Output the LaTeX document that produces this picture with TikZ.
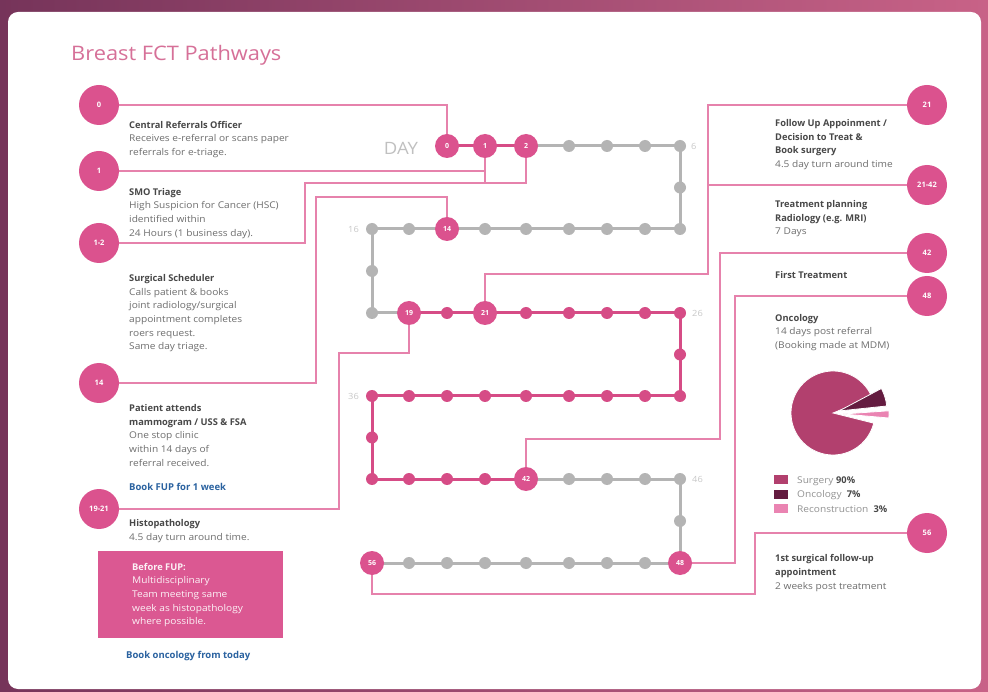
\documentclass[tikz,border=0pt]{standalone}
\usepackage{fontspec}
\setmainfont{Open Sans}[UprightFeatures={FakeStretch=1.09}]
\usetikzlibrary{calc}

\definecolor{bgl}{RGB}{118,52,90}
\definecolor{bgr}{RGB}{200,98,135}
\definecolor{pinkmain}{RGB}{219,82,142}
\definecolor{pathpink}{RGB}{214,76,134}
\definecolor{pathgray}{RGB}{180,180,180}
\definecolor{connc}{RGB}{230,130,172}
\definecolor{bodyc}{RGB}{110,110,110}
\definecolor{headc}{RGB}{72,72,72}
\definecolor{bluec}{RGB}{42,98,160}
\definecolor{boxc}{RGB}{219,88,146}
\definecolor{titlec}{RGB}{214,112,152}
\definecolor{daygray}{RGB}{192,192,192}
\definecolor{numgray}{RGB}{200,200,200}
\definecolor{surgc}{RGB}{178,64,110}
\definecolor{oncc}{RGB}{100,28,64}
\definecolor{recc}{RGB}{234,132,178}

\pgfdeclarelayer{back}
\pgfdeclarelayer{links}
\pgfsetlayers{back,links,main}

\newcommand\headtxt[1]{{\bfseries\color{headc}#1}}
\newcommand\dayat[3]{%
  \pgfmathsetmacro\dayx{{372,409,447,485,526,569,607,645,680}[#2]}%
  \coordinate (p#1) at (\dayx,#3);}

\begin{document}
\begin{tikzpicture}[x=1pt,y=-1pt,
  graydot/.style={circle,fill=pathgray,minimum size=12pt,inner sep=0pt},
  pinkdot/.style={circle,fill=pathpink,minimum size=12pt,inner sep=0pt},
  bigdot/.style={circle,fill=pinkmain,minimum size=24pt,inner sep=0pt,
    text=white,font=\fontsize{7}{8}\selectfont\bfseries},
  sidedot/.style={circle,fill=pinkmain,minimum size=40pt,inner sep=0pt,
    text=white,font=\fontsize{7.5}{9}\selectfont\bfseries},
  conn/.style={draw=connc,line width=1.3pt},
  track/.style={line width=3pt},
  txt/.style={anchor=north west,inner sep=0pt,align=left,text=bodyc,
    font=\fontsize{9.3}{13.6}\selectfont},
  bluetxt/.style={anchor=north west,inner sep=0pt,text=bluec,
    font=\fontsize{9.5}{13.6}\selectfont\bfseries},
  numlbl/.style={inner sep=0pt,text=numgray,font=\fontsize{8.5}{9}\selectfont},
  legbox/.style={minimum width=14pt,minimum height=9pt,inner sep=0pt},
  legtxt/.style={anchor=base west,inner sep=0pt,text=bodyc!75!white,
    font=\fontsize{9.3}{12}\selectfont}
]
\useasboundingbox (0,0) rectangle (988,692);

% frame and card
\begin{pgfonlayer}{back}
  \shade[left color=bgl,right color=bgr] (0,0) rectangle (988,692);
  \fill[white,rounded corners=10pt] (8,12) rectangle (981,689);
\end{pgfonlayer}

% title
\node[anchor=base west,inner sep=0pt,text=titlec,
  font=\fontsize{20}{24}\selectfont] (title) at (71,61) {Breast FCT Pathways};

% positions of the 57 days along the serpentine track
\foreach \d in {0,...,6}{\pgfmathtruncatemacro\c{\d+2}\dayat{\d}{\c}{146}}
\coordinate (p7) at (680,187.5);
\foreach \d in {8,...,16}{\pgfmathtruncatemacro\c{16-\d}\dayat{\d}{\c}{229}}
\coordinate (p17) at (372,271);
\foreach \d in {18,...,26}{\pgfmathtruncatemacro\c{\d-18}\dayat{\d}{\c}{313}}
\coordinate (p27) at (680,354.5);
\foreach \d in {28,...,36}{\pgfmathtruncatemacro\c{36-\d}\dayat{\d}{\c}{396}}
\coordinate (p37) at (372,437.5);
\foreach \d in {38,...,46}{\pgfmathtruncatemacro\c{\d-38}\dayat{\d}{\c}{479}}
\coordinate (p47) at (680,521);
\foreach \d in {48,...,56}{\pgfmathtruncatemacro\c{56-\d}\dayat{\d}{\c}{563}}

% track segments
\begin{pgfonlayer}{links}
\foreach \d [evaluate=\d as \n using int(\d+1)] in {0,...,55}{
  \ifnum\d<2 \def\segcol{pathpink}\else
  \ifnum\d<19 \def\segcol{pathgray}\else
  \ifnum\d<42 \def\segcol{pathpink}\else
  \def\segcol{pathgray}\fi\fi\fi
  \draw[track,draw=\segcol] (p\d) -- (p\n);
}
\end{pgfonlayer}

% day markers
\foreach \d in {3,...,13}{\node[graydot] (d\d) at (p\d) {};}
\foreach \d in {15,...,18}{\node[graydot] (d\d) at (p\d) {};}
\foreach \d in {43,...,47}{\node[graydot] (d\d) at (p\d) {};}
\foreach \d in {49,...,55}{\node[graydot] (d\d) at (p\d) {};}
\node[pinkdot] (d20) at (p20) {};
\foreach \d in {22,...,41}{\node[pinkdot] (d\d) at (p\d) {};}
\foreach \d in {0,1,2,14,19,21,42,48,56}{\node[bigdot] (d\d) at (p\d) {\d};}

% track captions
\node[anchor=base,inner sep=0pt,text=daygray,font=\fontsize{17}{20}\selectfont]
  (daylbl) at (401,155) {DAY};
\node[numlbl,anchor=west] (n6)  at ([xshift=11pt]d6.center)  {6};
\node[numlbl,anchor=east] (n16) at ([xshift=-13pt]d16.center) {16};
\node[numlbl,anchor=west] (n26) at ([xshift=12pt]d26.center) {26};
\node[numlbl,anchor=east] (n36) at ([xshift=-13pt]d36.center) {36};
\node[numlbl,anchor=west] (n46) at ([xshift=12pt]d46.center) {46};

% milestone badges
\node[sidedot] (L0)    at (99,105) {0};
\node[sidedot] (L1)    at (99,171) {1};
\node[sidedot] (L12)   at (99,243) {1-2};
\node[sidedot] (L14)   at (99,383) {14};
\node[sidedot] (L1921) at (99,509) {19-21};
\node[sidedot] (R21)   at (927,105) {21};
\node[sidedot] (R2142) at (927,185) {21-42};
\node[sidedot] (R42)   at (927,253) {42};
\node[sidedot] (R48)   at (927,296) {48};
\node[sidedot] (R56)   at (927,533) {56};

% elbow points of the leader lines
\coordinate (k12)   at (305,183);
\coordinate (k14)   at (316,197);
\coordinate (k1921) at (339,353);
\coordinate (k21)   at (708,274);
\coordinate (k42)   at (720,439);
\coordinate (k48)   at (735,563);
\coordinate (k56)   at (755,594);

% leader lines
\begin{pgfonlayer}{links}
  \draw[conn] (L0) -- (L0 -| d0) -- (d0);
  \draw[conn] (L1) -- (L1 -| d1) -- (d1);
  \draw[conn] (L12) -- (L12 -| k12) -- (k12) -- (k12 -| d2) -- (d2);
  \draw[conn] (k12 -| d1) -- (d1);
  \draw[conn] (L14) -- (L14 -| k14) -- (k14) -- (k14 -| d14) -- (d14);
  \draw[conn] (L1921) -- (L1921 -| k1921) -- (k1921) -- (k1921 -| d19) -- (d19);
  \draw[conn] (R21) -- (R21 -| k21) -- (k21) -- (k21 -| d21) -- (d21);
  \draw[conn] (R2142) -- (R2142 -| k21);
  \draw[conn] (R42) -- (R42 -| k42) -- (k42) -- (k42 -| d42) -- (d42);
  \draw[conn] (R48) -- (R48 -| k48) -- (k48) -- (d48);
  \draw[conn] (R56) -- (R56 -| k56) -- (k56) -- (k56 -| d56) -- (d56);
\end{pgfonlayer}

% left column
\node[txt] (tcro) at (129,121) {\headtxt{Central Referrals Officer}\\
  Receives e-referral or scans paper\\referrals for e-triage.};
\node[txt] (tsmo) at (129,188) {\headtxt{SMO Triage}\\
  High Suspicion for Cancer (HSC)\\identified within\\24 Hours (1 business day).};
\node[txt] (tsch) at (129,274.5) {\headtxt{Surgical Scheduler}\\
  Calls patient \& books\\joint radiology/surgical\\appointment completes\\
  roers request.\\Same day triage.};
\node[txt] (tmam) at (129,404.5) {\headtxt{Patient attends}\\
  \headtxt{mammogram / USS \& FSA}\\One stop clinic\\within 14 days of\\
  referral received.};
\node[bluetxt] (tfup) at (129,483) {Book FUP for 1 week};
\node[txt] (thist) at (129,519.5) {\headtxt{Histopathology}\\4.5 day turn around time.};
\node[fill=boxc,minimum width=185pt,minimum height=87pt,inner sep=0pt,
  anchor=north west] (fupbox) at (98,551) {};
\node[txt,text=white!92!boxc] (tbox) at ([shift={(34,12)}]fupbox.north west)
  {\textbf{Before FUP:}\\Multidisciplinary\\Team meeting same\\
   week as histopathology\\where possible.};
\node[bluetxt] (tonc) at (126,651) {Book oncology from today};

% right column
\node[txt] (tfu) at (775,119.5) {\headtxt{Follow Up Appoinment /}\\
  \headtxt{Decision to Treat \&}\\\headtxt{Book surgery}\\4.5 day turn around time};
\node[txt] (ttp) at (775,200.5) {\headtxt{Treatment planning}\\
  \headtxt{Radiology (e.g. MRI)}\\7 Days};
\node[txt] (tft) at (775,271) {\headtxt{First Treatment}};
\node[txt] (tocc) at (775,314) {\headtxt{Oncology}\\14 days post referral\\
  (Booking made at MDM)};
\node[txt] (tsfu) at (775,554.5) {\headtxt{1st surgical follow-up}\\
  \headtxt{appointment}\\2 weeks post treatment};

% treatment split
\begin{scope}[shift={(833,413)},yscale=-1]
  \filldraw[fill=surgc,draw=white,line width=0.8pt]
    (0,0) -- (22:42) arc[start angle=22,end angle=346,radius=42] -- cycle;
  \filldraw[fill=oncc,draw=white,line width=0.8pt]
    (6,2) -- ++(6:48) arc[start angle=6,end angle=28,radius=48] -- cycle;
  \filldraw[fill=recc,draw=white,line width=0.8pt]
    (10,-1) -- ++(-5:46) arc[start angle=-5,end angle=4,radius=46] -- cycle;
\end{scope}

% legend
\node[legbox,fill=surgc] (lg1) at (781,479.5) {};
\node[legbox,fill=oncc]  (lg2) at (781,494) {};
\node[legbox,fill=recc]  (lg3) at (781,508.5) {};
\node[legtxt] (lt1) at (797,483) {Surgery \textbf{\color{headc}90\%}};
\node[legtxt] (lt2) at (797,497.5) {Oncology\ \ \textbf{\color{headc}7\%}};
\node[legtxt] (lt3) at (797,512) {Reconstruction\ \ \textbf{\color{headc}3\%}};
\end{tikzpicture}
\end{document}
